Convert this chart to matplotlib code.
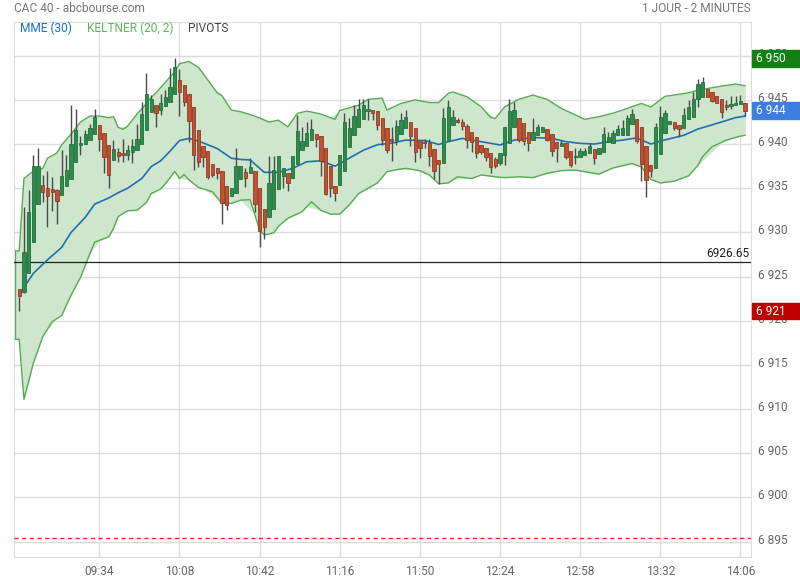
import matplotlib
matplotlib.use('Agg')
import matplotlib.pyplot as plt
import matplotlib.transforms as mtransforms
from matplotlib.patches import Rectangle
import numpy as np
import pandas as pd

plt.rcParams['font.family'] = ['Roboto', 'DejaVu Sans']

# ==========================================
# DONNÉES : CAC 40, bougies 2 minutes (09:00 -> 14:08)
# ==========================================

ouverture = [
    6923.55, 6923.2, 6925.4, 6928.9, 6933.2, 6935.35, 6935.0, 6934.9, 6934.8, 6934.2,
    6935.3, 6936.1, 6938.0, 6939.85, 6940.0, 6940.5, 6941.1, 6942.15, 6941.3, 6939.85,
    6938.15, 6939.05, 6939.0, 6938.75, 6939.05, 6939.3, 6940.0, 6941.65, 6943.65, 6944.4,
    6943.9, 6944.3, 6944.8, 6945.7, 6947.3, 6946.7, 6945.7, 6944.15, 6941.6, 6939.8,
    6939.2, 6937.8, 6937.3, 6936.95, 6935.25, 6934.1, 6934.5, 6936.0, 6936.8, 6936.7,
    6936.95, 6935.0, 6932.6, 6931.7, 6932.7, 6934.9, 6936.4, 6936.75, 6936.2, 6937.8,
    6939.3, 6939.8, 6940.5, 6941.1, 6940.9, 6939.6, 6937.5, 6935.25, 6935.4, 6937.0,
    6939.7, 6941.0, 6941.9, 6942.8, 6943.7, 6943.85, 6943.7, 6942.9, 6941.8, 6940.6,
    6940.45, 6941.14, 6941.8, 6942.5, 6941.78, 6940.39, 6940.17, 6940.08, 6939.4, 6938.19,
    6937.9, 6940.39, 6942.2, 6942.72, 6942.55, 6942.1, 6941.35, 6940.75, 6939.9, 6939.5,
    6939.0, 6938.27, 6937.9, 6938.76, 6940.08, 6941.9, 6942.9, 6942.34, 6941.4, 6940.45,
    6941.0, 6941.4, 6941.66, 6941.14, 6940.27, 6939.78, 6940.08, 6939.25, 6938.5, 6938.57,
    6938.76, 6939.0, 6939.4, 6938.87, 6939.14, 6940.27, 6940.15, 6941.0, 6941.08, 6941.08,
    6942.3, 6942.8, 6941.9, 6939.8, 6937.6, 6937.25, 6938.87, 6941.2, 6942.23, 6942.45,
    6942.15, 6941.85, 6942.83, 6943.1, 6945.06, 6945.36, 6946.2, 6945.85, 6945.44, 6945.06,
    6944.4, 6944.28, 6944.4, 6944.5, 6944.66,
]
plus_haut = [
    6923.6, 6932.9, 6934.8, 6938.75, 6939.6, 6936.5, 6936.9, 6936.3, 6934.9, 6939.3,
    6938.75, 6944.4, 6944.0, 6940.9, 6941.6, 6942.3, 6944.0, 6942.2, 6941.3, 6939.9,
    6940.45, 6939.6, 6940.6, 6939.9, 6940.6, 6942.3, 6944.8, 6948.0, 6945.55, 6944.4,
    6945.7, 6946.1, 6948.6, 6949.7, 6948.5, 6946.7, 6945.7, 6944.15, 6941.6, 6939.8,
    6939.2, 6937.8, 6937.3, 6936.95, 6935.25, 6934.98, 6939.5, 6937.5, 6937.3, 6938.4,
    6936.95, 6935.0, 6932.6, 6938.65, 6938.65, 6938.65, 6937.25, 6936.75, 6938.65, 6943.3,
    6941.9, 6942.5, 6942.8, 6941.1, 6940.9, 6939.6, 6937.5, 6935.25, 6938.75, 6943.5,
    6942.9, 6944.4, 6945.1, 6945.05, 6945.05, 6943.85, 6943.7, 6942.9, 6941.8, 6941.96,
    6942.7, 6943.47, 6943.85, 6942.5, 6941.78, 6940.39, 6940.6, 6940.6, 6939.4, 6938.19,
    6944.04, 6944.98, 6943.9, 6942.9, 6942.8, 6942.3, 6941.35, 6940.75, 6939.9, 6939.5,
    6939.0, 6938.57, 6938.95, 6941.96, 6945.06, 6944.8, 6942.9, 6942.34, 6941.4, 6942.9,
    6942.27, 6941.96, 6941.66, 6941.14, 6940.27, 6940.45, 6940.08, 6939.25, 6939.6, 6939.6,
    6939.6, 6940.08, 6939.4, 6939.51, 6941.96, 6941.4, 6941.6, 6942.16, 6942.7, 6943.3,
    6944.0, 6942.8, 6941.9, 6939.8, 6937.6, 6942.35, 6944.3, 6943.9, 6942.6, 6942.45,
    6942.15, 6944.04, 6944.98, 6945.9, 6947.4, 6947.6, 6946.2, 6945.85, 6945.44, 6945.06,
    6945.0, 6945.4, 6945.4, 6945.55, 6944.66,
]
plus_bas = [
    6921.1, 6923.1, 6925.4, 6928.9, 6933.2, 6933.4, 6930.6, 6932.4, 6930.9, 6934.2,
    6935.3, 6936.1, 6938.0, 6938.75, 6940.0, 6940.5, 6941.1, 6939.25, 6936.75, 6935.05,
    6938.15, 6938.0, 6938.0, 6938.2, 6937.9, 6939.3, 6940.0, 6941.65, 6943.65, 6941.9,
    6943.3, 6944.3, 6944.8, 6945.7, 6943.2, 6944.35, 6940.25, 6937.05, 6937.4, 6937.4,
    6936.1, 6936.3, 6936.1, 6931.0, 6932.5, 6934.1, 6934.5, 6936.0, 6935.15, 6936.7,
    6932.35, 6928.4, 6929.3, 6931.7, 6932.7, 6934.9, 6935.0, 6934.7, 6936.2, 6937.8,
    6939.3, 6939.8, 6940.5, 6939.7, 6936.35, 6934.2, 6934.0, 6933.5, 6935.4, 6937.0,
    6939.7, 6941.0, 6941.9, 6942.8, 6942.7, 6942.7, 6941.6, 6939.9, 6939.0, 6938.1,
    6939.9, 6941.14, 6941.8, 6939.8, 6938.0, 6938.4, 6939.6, 6937.5, 6936.1, 6935.5,
    6937.9, 6940.39, 6942.2, 6942.4, 6941.6, 6939.6, 6939.14, 6938.4, 6938.9, 6938.1,
    6936.7, 6937.25, 6937.6, 6937.6, 6940.08, 6941.9, 6940.2, 6939.9, 6939.25, 6940.45,
    6941.0, 6941.4, 6940.3, 6938.6, 6938.0, 6939.78, 6938.3, 6937.4, 6937.74, 6938.57,
    6938.76, 6939.0, 6937.74, 6938.87, 6939.14, 6940.27, 6940.15, 6941.0, 6941.08, 6941.08,
    6942.3, 6940.1, 6935.85, 6934.0, 6936.3, 6937.25, 6938.87, 6941.2, 6942.23, 6941.6,
    6940.83, 6941.85, 6942.83, 6943.1, 6944.2, 6945.36, 6945.3, 6944.8, 6944.6, 6943.0,
    6943.85, 6944.0, 6944.4, 6944.5, 6943.17,
]
cloture = [
    6922.85, 6927.75, 6932.3, 6937.5, 6937.5, 6934.6, 6934.15, 6934.6, 6933.6, 6936.4,
    6937.1, 6940.0, 6941.6, 6940.15, 6941.1, 6941.8, 6943.05, 6940.6, 6938.5, 6936.45,
    6939.4, 6938.7, 6938.8, 6939.3, 6939.8, 6940.6, 6943.4, 6945.65, 6945.05, 6943.55,
    6944.7, 6945.35, 6946.5, 6948.75, 6945.9, 6944.8, 6942.6, 6938.8, 6938.0, 6938.5,
    6936.3, 6936.5, 6936.7, 6933.3, 6933.1, 6934.98, 6937.5, 6937.5, 6936.2, 6937.35,
    6933.2, 6930.2, 6930.6, 6935.55, 6937.1, 6938.65, 6937.25, 6935.6, 6938.65, 6941.5,
    6940.3, 6941.3, 6941.7, 6940.6, 6938.1, 6934.4, 6935.0, 6934.5, 6938.75, 6942.45,
    6941.8, 6943.2, 6944.0, 6944.4, 6944.0, 6943.55, 6942.15, 6940.45, 6939.3, 6940.3,
    6942.0, 6942.72, 6943.02, 6940.9, 6939.14, 6939.55, 6940.13, 6938.65, 6936.97, 6937.8,
    6942.9, 6944.15, 6943.02, 6942.45, 6942.05, 6940.45, 6940.2, 6938.95, 6939.14, 6938.57,
    6937.44, 6937.5, 6938.95, 6941.96, 6943.78, 6943.85, 6940.45, 6940.4, 6940.08, 6941.4,
    6941.96, 6941.96, 6940.45, 6939.25, 6939.5, 6940.15, 6938.57, 6937.6, 6938.65, 6939.2,
    6939.2, 6939.78, 6938.38, 6939.51, 6941.14, 6940.8, 6941.21, 6941.67, 6941.78, 6942.9,
    6943.4, 6940.3, 6937.8, 6935.9, 6936.9, 6941.89, 6943.1, 6943.47, 6942.6, 6941.78,
    6941.66, 6943.28, 6944.23, 6945.06, 6946.8, 6947.06, 6945.36, 6944.9, 6944.7, 6943.66,
    6944.2, 6944.5, 6944.66, 6944.9, 6943.78,
]

# Keltner (20, 2) : bandes (indice de bougie, valeur)
keltner_haut_idx = [-1, 0, 1, 3, 5, 6, 8, 9, 11, 13, 15, 17, 19, 20, 21, 22, 23, 25, 27, 28,
                    29, 31, 33, 34, 36, 38, 39, 42, 43, 45, 47, 50, 53, 55, 57, 59, 61, 64,
                    67, 68, 72, 74, 77, 78, 81, 84, 87, 89, 91, 92, 95, 98, 100, 101, 103,
                    106, 109, 112, 115, 118, 120, 123, 126, 128, 130, 132, 134, 137, 142,
                    144, 149, 152, 154]
keltner_haut = [6927.9, 6927.9, 6936.1, 6936.94, 6937.25, 6938.4, 6939.0, 6939.9, 6941.13,
                6942.5, 6943.17, 6943.17, 6943.0, 6943.1, 6941.9, 6941.66, 6942.04, 6943.4,
                6944.6, 6945.3, 6945.8, 6947.0, 6948.2, 6949.1, 6949.35, 6948.7, 6948.0,
                6945.8, 6945.5, 6943.85, 6943.66, 6943.17, 6942.5, 6942.7, 6941.96, 6943.47,
                6943.74, 6943.4, 6942.8, 6943.8, 6944.4, 6945.06, 6945.2, 6943.85, 6944.6,
                6945.0, 6944.7, 6944.7, 6945.74, 6945.9, 6945.36, 6944.23, 6943.02, 6942.9,
                6944.23, 6945.06, 6945.55, 6945.06, 6944.04, 6943.3, 6942.8, 6943.1, 6943.5,
                6943.85, 6944.23, 6944.6, 6944.2, 6945.4, 6945.8, 6946.1, 6946.57, 6946.8,
                6946.6]

keltner_bas_idx = [-1, 0, 1, 3, 5, 7, 9, 11, 13, 15, 16, 19, 20, 21, 23, 25, 27, 28, 30, 31,
                   33, 34, 35, 36, 38, 41, 43, 45, 47, 49, 51, 52, 54, 55, 57, 60, 62, 64,
                   66, 68, 70, 72, 76, 78, 80, 82, 85, 87, 89, 91, 93, 96, 98, 101, 103,
                   106, 109, 112, 115, 118, 120, 123, 126, 130, 132, 134, 136, 139, 142,
                   144, 145, 147, 150, 153, 154]
keltner_bas = [6917.9, 6917.9, 6911.1, 6915.2, 6918.2, 6919.9, 6920.6, 6922.9, 6924.9,
               6927.6, 6928.9, 6929.5, 6930.45, 6931.8, 6932.45, 6932.5, 6933.4, 6934.4,
               6934.9, 6935.5, 6936.9, 6936.1, 6936.55, 6935.95, 6935.1, 6934.6, 6933.28,
               6933.28, 6933.66, 6933.7, 6930.26, 6929.7, 6929.96, 6930.7, 6931.6, 6932.34,
               6933.47, 6932.5, 6932.07, 6932.07, 6933.1, 6934.4, 6935.6, 6936.87, 6937.1,
               6937.25, 6936.99, 6936.5, 6935.5, 6935.6, 6936.3, 6936.1, 6936.5, 6936.3,
               6936.2, 6936.3, 6936.2, 6936.7, 6936.99, 6937.06, 6936.87, 6936.6, 6937.3,
               6937.8, 6937.4, 6936.0, 6935.6, 6935.8, 6936.4, 6937.6, 6938.6, 6939.7,
               6940.45, 6940.9, 6941.0]

# MME (30)
mme_idx = [0, 3, 6, 9, 11, 14, 16, 19, 21, 23, 26, 28, 30, 32, 34, 36, 38, 42, 45, 47, 49,
           52, 55, 58, 61, 64, 67, 70, 73, 76, 79, 82, 86, 89, 91, 94, 98, 102, 105, 109,
           113, 116, 119, 122, 125, 128, 131, 134, 136, 138, 141, 144, 149, 152, 154]
mme = [6923.0, 6925.36, 6926.9, 6928.3, 6930.0, 6931.7, 6933.2, 6933.9, 6934.5, 6935.0,
       6936.1, 6937.45, 6938.1, 6939.2, 6940.4, 6940.64, 6940.35, 6939.5, 6938.4, 6938.26,
       6938.2, 6936.8, 6936.8, 6937.25, 6938.0, 6938.1, 6937.5, 6938.4, 6939.3, 6939.93,
       6940.1, 6940.45, 6940.4, 6939.96, 6940.27, 6940.64, 6940.27, 6939.9, 6940.45,
       6940.75, 6940.64, 6940.27, 6940.08, 6940.0, 6940.26, 6940.45, 6940.7, 6940.0,
       6940.34, 6940.6, 6941.0, 6941.7, 6942.5, 6943.0, 6943.17]

cloture_veille = 6926.65
pivot_s = 6895.4
plus_haut_jour = 6950
plus_bas_jour = 6921
dernier = 6944

heures = pd.date_range('2024-01-01 09:00', periods=len(cloture), freq='2min').strftime('%H:%M')
heures_affichees = ['09:34', '10:08', '10:42', '11:16', '11:50', '12:24', '12:58', '13:32', '14:06']

# ==========================================
# GRAPHIQUE
# ==========================================

taille = 8.6

fig = plt.figure(figsize=(8, 5.8), dpi=100)
ax = fig.add_axes([14.5 / 800, 1 - 556.5 / 580, (751 - 14.5) / 800, (556.5 - 22) / 580])

o = np.array(ouverture)
h = np.array(plus_haut)
l = np.array(plus_bas)
c = np.array(cloture)
x = np.arange(len(c))
hausse = c >= o

# bandes de Keltner
xb = np.array(keltner_haut_idx)
ax.fill_between(xb, keltner_haut, np.interp(xb, keltner_bas_idx, keltner_bas),
                color='#cde6cc', lw=0, zorder=1)
xb2 = np.array(keltner_bas_idx)
ax.fill_between(xb2, np.interp(xb2, keltner_haut_idx, keltner_haut), keltner_bas,
                color='#cde6cc', lw=0, zorder=1)
ax.plot(keltner_haut_idx, keltner_haut, color='#5aaa55', lw=1, zorder=2)
ax.plot(keltner_bas_idx, keltner_bas, color='#5aaa55', lw=1, zorder=2)
ax.plot([-1, -1], [keltner_bas[0], keltner_haut[0]], color='#5aaa55', lw=1, zorder=2)

# MME
ax.plot(mme_idx, mme, color='#1f6fb2', lw=1.2, zorder=4)

# bougies
ax.vlines(x, l, h, color='#4a4a4a', lw=1, zorder=5)
corps = np.maximum(np.abs(c - o), 0.12)
ax.bar(x[hausse], corps[hausse], bottom=np.minimum(o, c)[hausse], width=0.7,
       color='#2e8b4e', edgecolor='#23703d', lw=0.6, zorder=6)
ax.bar(x[~hausse], corps[~hausse], bottom=np.minimum(o, c)[~hausse], width=0.7,
       color='#c5502f', edgecolor='#8e3b27', lw=0.6, zorder=6)

# clôture de la veille et pivot
ax.axhline(cloture_veille, color='#222222', lw=0.9, zorder=3)
ax.text(154.9, cloture_veille + 0.25, f'{cloture_veille:.2f}', ha='right', va='bottom',
        fontsize=taille, color='#222222', zorder=7)
ax.axhline(pivot_s, color='#ff2020', lw=1, ls=(0, (3, 2.5)), zorder=3)

# axes
ax.set_xlim(-1, 155.25)
ax.set_ylim(6893.31, 6953.82)
ax.set_yticks(np.arange(6895, 6951, 5))
ax.set_yticklabels([f'{v // 1000} {v % 1000:03d}' for v in range(6895, 6951, 5)])
ax.yaxis.tick_right()
pos = [list(heures).index(t) for t in heures_affichees]
ax.set_xticks(pos)
ax.set_xticklabels(heures_affichees)
ax.tick_params(axis='both', length=0, labelsize=taille, labelcolor='#666666')
ax.tick_params(axis='y', pad=5)
ax.tick_params(axis='x', pad=6)
decalage = mtransforms.ScaledTranslation(0, 3 / 100, fig.dpi_scale_trans)
for lab in ax.get_yticklabels():
    lab.set_transform(lab.get_transform() + decalage)
ax.grid(True, color='#dddddd', lw=1, zorder=0)
ax.set_axisbelow(True)
for s in ax.spines.values():
    s.set_color('#dddddd')

# étiquettes de valeur à droite
trans = mtransforms.blended_transform_factory(ax.transAxes, ax.transData)
for val, coul, prix in [(plus_haut_jour, '#138013', 6949.7), (dernier, '#3b7de0', 6943.78),
                        (plus_bas_jour, '#c00000', 6921.1)]:
    ax.add_patch(Rectangle((1.0015, prix - 0.95), 0.07, 1.9, transform=trans,
                           color=coul, clip_on=False, zorder=8))
    ax.text(1.007, prix, f'{val // 1000} {val % 1000:03d}', transform=trans,
            ha='left', va='center', fontsize=taille, color='white', zorder=9, clip_on=False)

# en-tête
fig.text(14 / 800, 1 - 9 / 580, 'CAC 40 - abcbourse.com', ha='left', va='center',
         fontsize=taille, color='#777777')
fig.text(751 / 800, 1 - 9 / 580, '1 JOUR - 2 MINUTES', ha='right', va='center',
         fontsize=taille, color='#777777')
fig.text(20 / 800, 1 - 28 / 580, 'MME (30)', ha='left', va='center', fontsize=taille,
         color='#1a6fd0')
fig.text(87 / 800, 1 - 28 / 580, 'KELTNER (20, 2)', ha='left', va='center', fontsize=taille,
         color='#5cb85c')
fig.text(188 / 800, 1 - 28 / 580, 'PIVOTS', ha='left', va='center', fontsize=taille,
         color='#444444')

plt.savefig('out.png', dpi=100)
